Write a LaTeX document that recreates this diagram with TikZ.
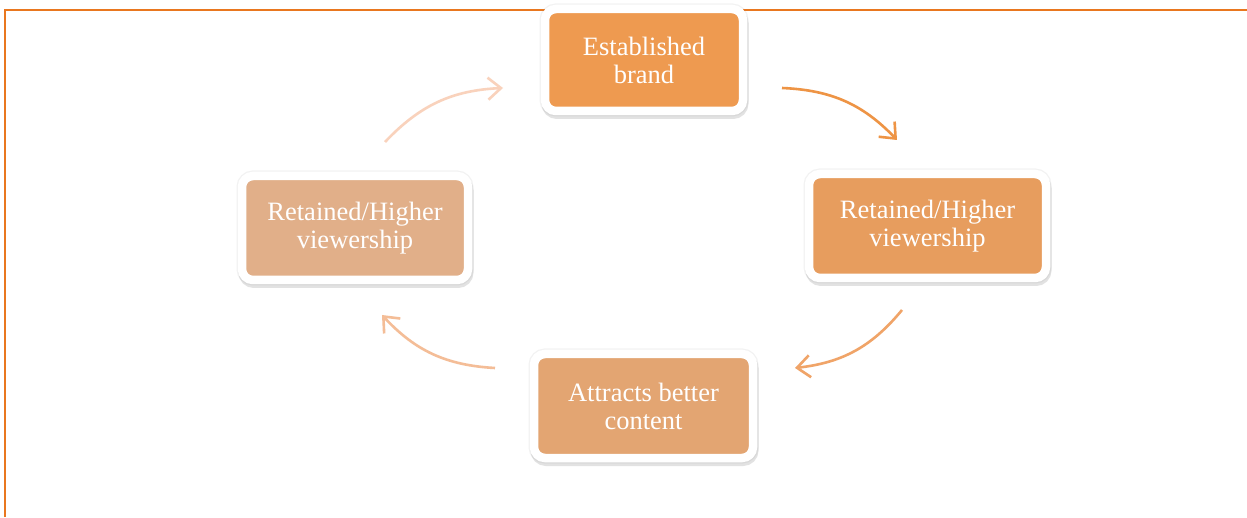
\documentclass[tikz,border=0pt]{standalone}
\usepackage{fontspec}
\setmainfont{Liberation Serif}
\usetikzlibrary{arrows.meta,shadows,calc}
\definecolor{frameC}{HTML}{E9771F}
\definecolor{cTop}{HTML}{EE9A50}
\definecolor{cRight}{HTML}{E79D5E}
\definecolor{cBottom}{HTML}{E3A572}
\definecolor{cLeft}{HTML}{E1AF89}
\definecolor{aOne}{HTML}{EE9445}
\definecolor{aTwo}{HTML}{F0A468}
\definecolor{aThree}{HTML}{F4BD97}
\definecolor{aFour}{HTML}{F9D2BC}
\tikzset{
  x=1pt,y=1pt,
  cyclebox/.style={rounded corners=11pt, draw=white, line width=8.5pt,
    text=white, align=center, inner sep=0pt,
    font=\fontsize{26.5}{28}\selectfont,
    general shadow={shadow xshift=0pt, shadow yshift=0pt, fill=black!40, draw=black!40, line width=11pt, opacity=0.12},
    drop shadow={shadow xshift=1pt, shadow yshift=-3.5pt, fill=black!45, draw=black!45, line width=9pt, opacity=0.25}},
  cyclearrow/.style={line width=2.6pt, -{Straight Barb[length=13pt,width=22pt,line width=2.6pt]}, bend left=22}
}
\begin{document}
\begin{tikzpicture}
\useasboundingbox (0,0) rectangle (1247,517);
\fill[white] (0,0) rectangle (1247,517);
% frame
\draw[frameC, line width=2.2pt] (5,0) -- (5,507) -- (1247,507);
% boxes
\node[cyclebox, fill=cTop, minimum width=198, minimum height=102] (top) at (644,457) {Established\\brand};
\node[cyclebox, fill=cRight, minimum width=237, minimum height=104] (right) at (927.5,291) {Retained/Higher\\viewership};
\node[cyclebox, fill=cBottom, minimum width=219, minimum height=104] (bottom) at (643.5,111) {Attracts better\\content};
\node[cyclebox, fill=cLeft, minimum width=226, minimum height=104] (left) at (355,289) {Retained/Higher\\viewership};
% arrow end points relative to the boxes
\coordinate (a1s) at ($(top.east)+(34.75,-28)$);
\coordinate (a1e) at ($(right.north)+(-30.5,29.75)$);
\coordinate (a2s) at ($(right.south)+(-25.5,-27.75)$);
\coordinate (a2e) at ($(bottom.east)+(37.75,38)$);
\coordinate (a3s) at ($(bottom.west)+(-34.75,38)$);
\coordinate (a3e) at ($(left.south)+(27,-30.75)$);
\coordinate (a4s) at ($(left.north)+(30,29.75)$);
\coordinate (a4e) at ($(top.west)+(-37.75,-28)$);
\draw[cyclearrow, aOne] (a1s) to (a1e);
\draw[cyclearrow, aTwo] (a2s) to (a2e);
\draw[cyclearrow, aThree] (a3s) to (a3e);
\draw[cyclearrow, aFour] (a4s) to (a4e);
\end{tikzpicture}
\end{document}
